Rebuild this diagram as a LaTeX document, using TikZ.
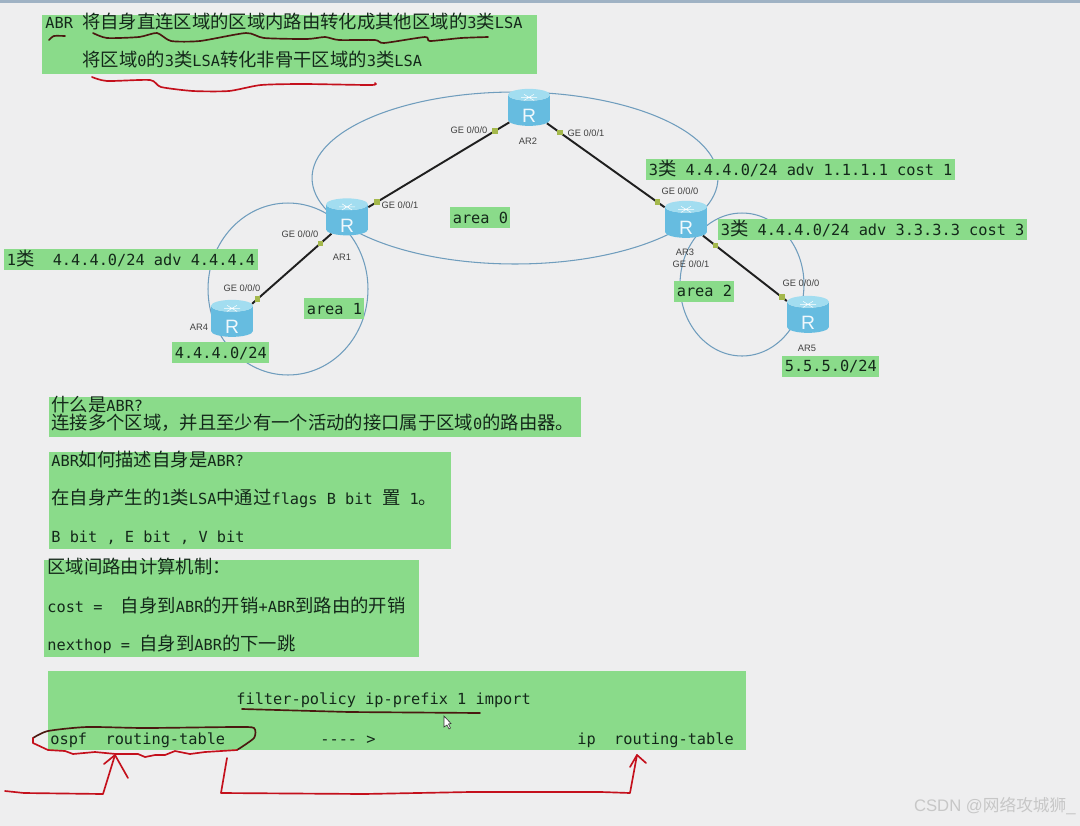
\documentclass[tikz,border=0pt]{standalone}
\usepackage{fontspec}
\usepackage{tikz}
\usetikzlibrary{shapes.geometric}
\setmainfont{Liberation Sans}
\setmonofont{DejaVu Sans Mono}
\newfontfamily\cjk[Scale=1.2]{Noto Sans CJK SC}
\newfontfamily\cjkmark{Noto Sans CJK SC}
\newcommand{\zh}[1]{{\cjk #1}}
\definecolor{pageCol}{HTML}{EEEEEF}
\definecolor{barCol}{HTML}{9FB2C4}
\definecolor{boxCol}{HTML}{8ADB8A}
\definecolor{inkCol}{HTML}{14281A}
\definecolor{loopEdge}{HTML}{6F9DBD}
\definecolor{penRed}{HTML}{C4101C}
\definecolor{penDark}{HTML}{4A1810}
\definecolor{portCol}{HTML}{A4B84C}
\definecolor{routerBody}{HTML}{66BCE0}
\definecolor{routerTop}{HTML}{A2DDF0}
\tikzset{
  x=0.02cm, y=-0.02cm,
  greenbox/.style={fill=boxCol, anchor=north west, inner sep=0pt},
  tag/.style={fill=boxCol, anchor=west, font=\fontsize{8.7}{10}\selectfont\ttfamily, text=inkCol,
        inner xsep=1.4pt, inner ysep=0pt, minimum height=0.42cm, text height=7.6pt, text depth=1pt},
  line/.style={anchor=west, font=\fontsize{8.7}{10}\selectfont\ttfamily, text=inkCol, inner sep=0pt,
        text height=7.6pt, text depth=1pt},
  iface/.style={font=\fontsize{5.3}{6}\selectfont, text=black!75, inner sep=0pt},
  arealoop/.style={draw=loopEdge, ellipse, line width=0.6pt, inner sep=0pt},
  router/.style={cylinder, shape border rotate=90, aspect=0.85, cylinder uses custom fill,
        cylinder body fill=routerBody, cylinder end fill=routerTop, inner sep=0pt,
        minimum width=0.84cm, minimum height=0.74cm, text=white!90!routerBody,
        font=\fontsize{11}{11}\selectfont,
        path picture={
          \draw[white, line width=0.3pt] ([shift={(-8,-10)}]path picture bounding box.center) -- ++(16,0)
            ([shift={(-5,-13)}]path picture bounding box.center) -- ++(10,6)
            ([shift={(5,-13)}]path picture bounding box.center) -- ++(-10,6);
        }},
  link/.style={draw=black!88, line width=1.1pt},
  portdot/.style={fill=portCol, inner sep=0pt, minimum size=0.11cm, rectangle},
  pen/.style={draw=penRed, line width=0.95pt, line join=round, line cap=round},
  pendark/.style={draw=penDark, line width=0.95pt, line join=round, line cap=round},
}
\newcommand{\routerR}{\raisebox{-7pt}[0pt][0pt]{R}}
\begin{document}
\begin{tikzpicture}
  \useasboundingbox (0,0) rectangle (1080,826);
  \fill[pageCol] (0,0) rectangle (1080,826);
  \fill[barCol] (0,0) rectangle (1080,3);

  % areas
  \node[arealoop, minimum width=8.12cm, minimum height=3.44cm] (area0) at (515,178) {};
  \node[arealoop, minimum width=3.2cm, minimum height=3.44cm] (area1) at (288,289) {};
  \node[arealoop, minimum width=2.48cm, minimum height=2.86cm] (area2) at (742,284.5) {};

  % routers
  \node[router] (ar1) at (347,220) {\routerR};
  \node[router] (ar2) at (529,110.5) {\routerR};
  \node[router] (ar3) at (686,222.5) {\routerR};
  \node[router] (ar4) at (232,321.5) {\routerR};
  \node[router] (ar5) at (808,317.5) {\routerR};

  \draw[link] (ar1) -- (ar2) node[portdot,pos=0.06]{} node[portdot,pos=0.9]{};
  \draw[link] (ar2) -- (ar3) node[portdot,pos=0.11]{} node[portdot,pos=0.94]{};
  \draw[link] (ar1) -- (ar4) node[portdot,pos=0.14]{} node[portdot,pos=0.93]{};
  \draw[link] (ar3) -- (ar5) node[portdot,pos=0.15]{} node[portdot,pos=0.94]{};

  \node[iface] (n1) at (342,257) {AR1};
  \node[iface] (n2) at (528,141) {AR2};
  \node[iface] (n3) at (685,252) {AR3};
  \node[iface] (n4) at (199,327) {AR4};
  \node[iface] (n5) at (807,348) {AR5};
  \node[iface] (g1) at (469,130) {GE 0/0/0};
  \node[iface] (g2) at (400,205) {GE 0/0/1};
  \node[iface] (g3) at (586,133) {GE 0/0/1};
  \node[iface] (g4) at (300,234) {GE 0/0/0};
  \node[iface] (g5) at (242,288) {GE 0/0/0};
  \node[iface] (g6) at (680,191) {GE 0/0/0};
  \node[iface] (g7) at (691,264) {GE 0/0/1};
  \node[iface] (g8) at (801,283) {GE 0/0/0};

  % labels on the topology
  \node[tag] (t0) at (450,217.5) {area 0};
  \node[tag] (t1) at (304,308.5) {area 1};
  \node[tag] (t2) at (674,291) {area 2};
  \node[tag] (t3) at (4,259.5) {1\zh{类}~~4.4.4.0/24 adv 4.4.4.4};
  \node[tag] (t4) at (172,352.5) {4.4.4.0/24};
  \node[tag] (t5) at (782,366) {5.5.5.0/24};
  \node[tag] (t6) at (646,169.5) {3\zh{类} 4.4.4.0/24 adv 1.1.1.1 cost 1};
  \node[tag] (t7) at (718,229.5) {3\zh{类} 4.4.4.0/24 adv 3.3.3.3 cost 3};

  % text blocks
  \node[greenbox, minimum width=9.9cm, minimum height=1.18cm] (b1) at (42,15) {};
  \node[line] (b1a) at (45,23) {ABR \zh{将自身直连区域的区域内路由转化成其他区域的}3\zh{类}LSA};
  \node[line] (b1b) at (82,61) {\zh{将区域}0\zh{的}3\zh{类}LSA\zh{转化非骨干区域的}3\zh{类}LSA};

  \node[greenbox, minimum width=10.64cm, minimum height=0.8cm] (b2) at (49,397) {};
  \node[line] (b2a) at (51,406) {\zh{什么是}ABR?};
  \node[line] (b2b) at (51,424) {\zh{连接多个区域，并且至少有一个活动的接口属于区域}0\zh{的路由器。}};

  \node[greenbox, minimum width=8.04cm, minimum height=1.94cm] (b3) at (49,452) {};
  \node[line] (b3a) at (51,461) {ABR\zh{如何描述自身是}ABR?};
  \node[line] (b3b) at (51,499) {\zh{在自身产生的}1\zh{类}LSA\zh{中通过}flags B bit \zh{置} 1\zh{。}};
  \node[line] (b3c) at (51,537) {B bit , E bit , V bit};

  \node[greenbox, minimum width=7.5cm, minimum height=1.94cm] (b4) at (44,560) {};
  \node[line] (b4a) at (47,568) {\zh{区域间路由计算机制：}};
  \node[line] (b4b) at (47,607) {cost =~~\zh{自身到}ABR\zh{的开销}+ABR\zh{到路由的开销}};
  \node[line] (b4c) at (47,645) {nexthop = \zh{自身到}ABR\zh{的下一跳}};

  \node[greenbox, minimum width=13.96cm, minimum height=1.58cm] (b5) at (48,671) {};
  \node[line] (b5a) at (236,699) {filter-policy ip-prefix 1 import};
  \node[line] (b5b) at (50,739) {ospf~~routing-table};
  \node[line] (b5c) at (320,739) {---- >};
  \node[line] (b5d) at (577,739) {ip~~routing-table};

  % pen strokes
  \draw[pendark] plot[smooth, tension=0.4] coordinates {(49,40) (54,36) (65,36)};
  \draw[pendark] plot[smooth, tension=0.4] coordinates {(93,33) (107,38) (139,37) (157,33) (171,41) (200,41) (246,33) (264,38) (307,39) (325,37) (339,40) (375,40) (384,43) (425,37) (430,41) (461,38) (488,37)};
  \draw[pen] plot[smooth, tension=0.4] coordinates {(92,77) (107,81) (150,80) (161,87) (193,91) (229,91) (261,85) (304,84) (371,85) (375,83)};
  \draw[pendark] (242,709) -- (349,712) -- (480,713);
  \draw[pendark] plot[smooth, tension=0.4] coordinates {(33,738) (48,731) (87,727) (145,728) (235,727) (254,728) (254,738) (237,750)};
  \draw[pen] (237,750) -- (205,752) -- (190,754) -- (175,751) -- (165,755) -- (155,755) -- (145,757) -- (138,754) -- (116,754) -- (95,752) -- (73,754) -- (65,751) -- (48,750) -- (33,743) -- (33,738);
  \draw[pen] (5,791) -- (24,793) -- (103,794) -- (115,755);
  \draw[pen] (104,764) -- (115,755) -- (128,778);
  \draw[pen] (227,758) -- (221,793) -- (364,794) -- (470,792) -- (601,792) -- (630,793) -- (637,755);
  \draw[pen] (630,767) -- (637,755) -- (646,763);

  % cursor
  \draw[fill=white, draw=black!80, line width=0.35pt] (444,716) -- (444,727) -- (447,725) -- (449,729) -- (450.5,728) -- (448.5,724) -- (451,723.5) -- cycle;

  % watermark
  \node[anchor=east, text=black!22, inner sep=0pt, font=\fontsize{9.5}{10}\selectfont] (mark) at (1076,806) {CSDN @{\cjkmark 网络攻城狮}\_};
\end{tikzpicture}
\end{document}
